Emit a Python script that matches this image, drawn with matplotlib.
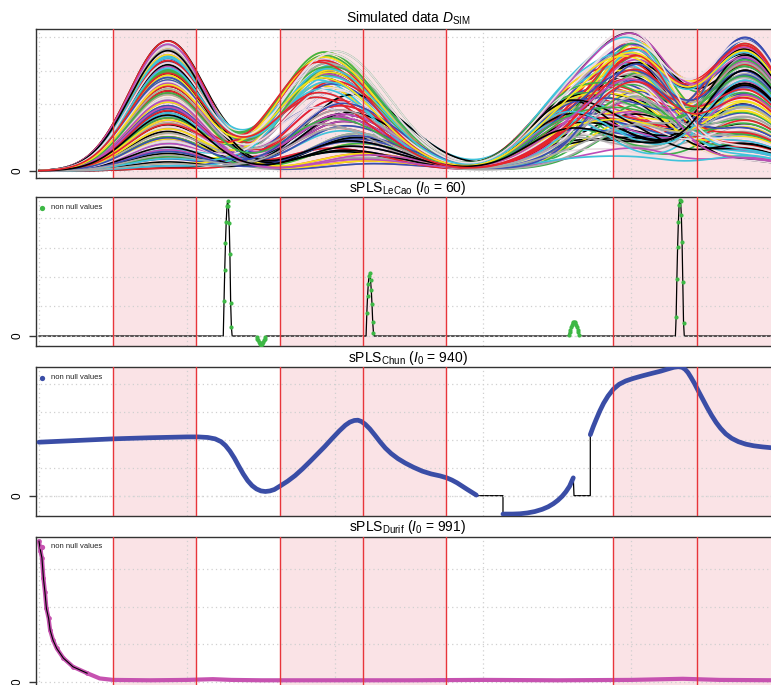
import numpy as np
import matplotlib
matplotlib.use("Agg")
import matplotlib.pyplot as plt

plt.rcParams['font.family'] = ['Liberation Sans', 'DejaVu Sans']
plt.rcParams['mathtext.fontset'] = 'custom'
plt.rcParams['mathtext.rm'] = 'Liberation Sans'
plt.rcParams['mathtext.it'] = 'Liberation Sans:italic'
plt.rcParams['mathtext.bf'] = 'Liberation Sans:bold'

# ---------------- data ----------------
# x axis = variable index
red_lines = [100, 212, 326, 438, 550, 776, 889]
pink_spans = [(100, 212), (326, 550), (776, 1010)]
grid_x = [0, 200, 400, 600, 800, 1000]

# simulated curves: amplitude / centre of each bump, one entry per curve
a1 = [3.88, 0.42, 2.71, 1.65, 3.12, 0.95, 2.28, 3.55,
      1.18, 0.08, 2.94, 1.86, 3.36, 0.63, 2.05, 1.44,
      3.71, 0.27, 2.52, 1.02, 3.24, 1.73, 0.81, 2.86,
      3.63, 1.31, 0.52, 2.39, 3.01, 1.95, 0.15, 2.62,
      3.47, 1.12, 2.17, 0.71, 3.29, 1.58, 2.79, 0.36,
      3.78, 1.25, 2.45, 0.88, 3.17, 1.79, 2.99, 0.58,
      3.41, 2.11, 1.51, 0.22, 2.67, 3.59, 1.38, 2.33,
      0.99, 3.06, 1.91, 2.57, 0.47, 3.22, 1.67, 2.91]
a2 = [2.95, 1.40, 3.58, 0.62, 2.20, 3.12, 1.05, 2.66,
      0.35, 3.40, 1.82, 2.48, 0.90, 3.25, 1.57, 2.02,
      3.05, 0.48, 2.78, 1.28, 3.50, 0.74, 2.34, 1.95,
      2.87, 0.22, 3.18, 1.66, 2.55, 1.12, 3.35, 0.58,
      2.12, 3.45, 0.96, 2.72, 1.48, 3.02, 0.40, 2.40,
      1.75, 3.30, 0.82, 2.60, 1.20, 2.90, 0.30, 3.15,
      1.90, 2.28, 0.68, 3.55, 1.35, 2.82, 1.60, 0.52,
      3.22, 2.05, 1.00, 2.68, 3.10, 0.88, 2.45, 1.70]
c2 = [392, 382, 400, 414, 375, 396, 427, 389,
      436, 385, 405, 394, 419, 378, 398, 411,
      390, 447, 383, 403, 393, 422, 379, 407,
      388, 452, 397, 416, 381, 430, 389, 408,
      401, 386, 425, 376, 412, 394, 440, 404,
      418, 384, 433, 396, 409, 388, 444, 399,
      378, 423, 395, 386, 415, 392, 405, 438,
      390, 411, 429, 398, 387, 420, 382, 408]
b3 = [0.98, 1.91, 0.33, 1.50, 0.78, 1.71, 0.20, 1.26,
      1.99, 0.58, 1.10, 1.63, 0.45, 1.39, 1.83, 0.13,
      0.85, 1.55, 0.65, 1.95, 1.18, 0.29, 1.75, 1.01,
      0.49, 1.59, 1.88, 0.74, 1.30, 0.16, 1.66, 0.94,
      1.43, 0.36, 1.79, 1.14, 0.69, 2.03, 0.25, 1.34,
      1.73, 0.81, 0.41, 1.46, 1.85, 0.61, 1.23, 0.09,
      1.06, 1.94, 0.53, 1.59, 0.90, 0.31, 1.78, 1.29,
      0.71, 1.40, 1.96, 0.23, 0.99, 1.64, 0.48, 1.20]
a3 = [3.10, 1.25, 3.72, 0.55, 2.45, 1.80, 3.35, 0.95,
      2.70, 1.50, 3.55, 0.30, 2.20, 3.00, 1.10, 2.85,
      0.70, 3.45, 1.95, 2.55, 0.42, 3.25, 1.65, 2.35,
      3.62, 1.05, 2.95, 0.62, 3.15, 1.85, 2.10, 0.85,
      3.40, 1.40, 2.60, 0.20, 3.05, 1.70, 2.75, 1.15,
      0.50, 3.30, 2.25, 1.55, 3.50, 0.80, 2.90, 1.30,
      2.40, 0.65, 3.20, 1.90, 2.65, 0.35, 3.60, 1.20,
      2.05, 3.38, 0.90, 2.80, 1.45, 3.12, 0.48, 2.50]
a4 = [3.45, 1.10, 2.80, 3.97, 0.60, 2.25, 1.75, 3.20,
      0.95, 2.60, 3.70, 1.40, 2.95, 0.45, 3.35, 2.05,
      1.60, 3.85, 0.80, 2.40, 3.10, 1.25, 2.70, 0.35,
      3.55, 1.90, 0.70, 3.00, 2.15, 3.78, 1.05, 2.50,
      0.55, 3.25, 1.85, 2.90, 0.30, 3.60, 1.50, 2.30,
      3.90, 0.85, 2.65, 1.30, 3.40, 2.00, 0.65, 3.15,
      1.70, 2.85, 3.50, 0.40, 2.20, 1.15, 3.05, 2.55,
      0.75, 3.30, 1.95, 2.45, 3.65, 1.00, 2.75, 1.35]
# second batch of curves pairs the same read amplitudes differently
batch_shift = [0, 23, 11, 37, 5, 29]
curve_colors = ["black", "#E8232B", "#3DB04A", "#3B4DB2", "#3FC3DB",
                "#BE4DB8", "#F7E21A", "#A9A9A9", "#EBDCE4"]

# sPLS LeCao: non-null coefficients (index, value)
lecao_idx = list(range(250, 261)) + list(range(294, 307)) + list(range(443, 453)) \
    + list(range(716, 731)) + list(range(861, 872))
lecao_val = [1.18, 2.25, 3.16, 3.87, 4.40, 4.58, 4.40, 3.83, 2.77, 1.13, 0.30,
             -0.04, -0.09, -0.14, -0.19, -0.24, -0.28, -0.30, -0.28, -0.24, -0.19, -0.14, -0.09, -0.04,
             0.77, 1.35, 1.77, 2.04, 2.13, 1.90, 1.56, 1.08, 0.46, 0.10,
             0.05, 0.12, 0.20, 0.29, 0.37, 0.43, 0.47, 0.48, 0.47, 0.43, 0.37, 0.29, 0.20, 0.12, 0.05,
             0.65, 1.94, 3.03, 3.85, 4.44, 4.61, 4.58, 4.10, 3.20, 1.84, 0.45]

# sPLS Chun: three non-null stretches
chun_x1 = [0, 50, 100, 150, 200, 215, 228, 238, 246, 252, 258, 264, 270, 276, 282, 288,
           294, 300, 306, 312, 318, 326, 336, 346, 356, 366, 376, 386, 396, 406, 414, 420,
           426, 431, 436, 441, 447, 454, 461, 468, 476, 485, 495, 506, 518, 530, 542, 551,
           558, 565, 572, 579, 585, 591]
chun_y1 = [1.92, 1.98, 2.04, 2.08, 2.11, 2.11, 2.09, 2.04, 1.94, 1.80, 1.60, 1.35, 1.06, 0.78,
           0.54, 0.36, 0.24, 0.17, 0.15, 0.17, 0.22, 0.35, 0.52, 0.72, 0.96, 1.22, 1.49, 1.76,
           2.05, 2.33, 2.53, 2.64, 2.70, 2.71, 2.66, 2.56, 2.40, 2.17, 1.93, 1.71, 1.51, 1.33,
           1.17, 1.02, 0.88, 0.78, 0.71, 0.64, 0.56, 0.46, 0.34, 0.22, 0.12, 0.02]
chun_x2 = [627, 640, 650, 660, 670, 680, 688, 695, 701, 707, 712, 717, 722]
chun_y2 = [-0.66, -0.66, -0.65, -0.62, -0.57, -0.49, -0.40, -0.29, -0.17, -0.02, 0.14, 0.34, 0.64]
chun_x3 = [745, 749, 753, 758, 763, 769, 776, 784, 793, 803, 815, 828, 840, 850, 858, 864,
           869, 873, 877, 881, 886, 891, 897, 903, 909, 915, 921, 928, 936, 945, 955, 966,
           978, 990, 1000]
chun_y3 = [2.19, 2.48, 2.74, 3.05, 3.32, 3.58, 3.82, 4.00, 4.12, 4.21, 4.30, 4.39, 4.47, 4.55,
           4.61, 4.63, 4.61, 4.54, 4.42, 4.25, 4.02, 3.76, 3.46, 3.16, 2.88, 2.63, 2.42, 2.22,
           2.06, 1.94, 1.85, 1.79, 1.75, 1.72, 1.71]
chun_zero_x = [[592, 627], [723, 745]]

# sPLS Durif
durif_x = [0, 2, 4, 6, 8, 10, 13, 15, 19, 24, 33, 46, 65, 82, 100, 150, 200, 235, 260, 300,
           400, 500, 600, 700, 800, 870, 920, 1000]
durif_y = [3.75, 3.50, 3.30, 2.76, 2.40, 1.96, 1.69, 1.38, 1.11, 0.89, 0.63, 0.40, 0.23, 0.09,
           0.05, 0.04, 0.05, 0.07, 0.05, 0.04, 0.04, 0.04, 0.05, 0.04, 0.05, 0.08, 0.05, 0.04]

methods = ["LeCao", "Chun", "Durif"]
n_selected = [60, 940, 991]
method_colors = ["#3DB845", "#3A4DA6", "#C652B0"]

# ---------------- layout ----------------
W, H = 771, 685
fig = plt.figure(figsize=(W / 100, H / 100), dpi=100)
tops = [29, 197.5, 367, 536.5]
ph = 149
ylims = [(-0.209, 4.239), (-0.356, 4.695), (-0.73, 4.62), (-0.099, 3.875)]
ngrid = [5, 5, 5, 4]
axes = []
for top, yl, ng in zip(tops, ylims, ngrid):
    ax = fig.add_axes([36 / W, 1 - (top + ph) / H, (780 - 36) / W, ph / H])
    ax.set_xlim(-4.05, 1001.35)
    ax.set_ylim(*yl)
    for s0, s1 in pink_spans:
        ax.axvspan(s0, s1, color="#FAE3E6", lw=0, zorder=0)
    for gx in grid_x:
        ax.axvline(gx, color="#D0D0D0", ls=(0, (1, 2.5)), lw=0.9, zorder=0.5)
    for gy in range(ng):
        ax.axhline(gy, color="#D0D0D0", ls=(0, (1, 2.5)), lw=0.9, zorder=0.5)
    for rx in red_lines:
        ax.axvline(rx, color="#E8353A", lw=1.0, zorder=4)
    ax.set_xticks([])
    ax.set_yticks([0])
    ax.set_yticklabels(["0"], rotation=90, va="center", fontsize=8.5)
    ax.tick_params(axis="y", length=5, width=1.0, pad=4, color="#333333")
    for side in ["left", "top", "bottom"]:
        ax.spines[side].set_color("#333333")
        ax.spines[side].set_linewidth(1.0)
    ax.spines["right"].set_visible(False)
    axes.append(ax)

u = np.arange(0, 1001)


def bump(x, c, sl, sr):
    s = np.where(x < c, sl, sr)
    return np.exp(-0.5 * ((x - c) / s) ** 2)


# panel 1: simulated data
ax = axes[0]
n = len(a1)
k = 0
for shift in [[0] * 6, batch_shift]:
    for i in range(n):
        j = [(i + s) % n for s in shift]
        y = (a1[j[0]] * bump(u, 174, 52, 52) + a2[j[1]] * bump(u, c2[j[1]], 62, 74)
             + b3[j[3]] * bump(u, 712, 55, 55) + a3[j[4]] * bump(u, 808, 55, 50)
             + a4[j[5]] * bump(u, 955, 55, 55))
        ax.plot(u, y, color=curve_colors[k % len(curve_colors)], lw=1.2, zorder=2)
        k += 1
ax.text(0.5, 1 + 6 / ph, r"Simulated data $D_{\rm SIM}$", transform=ax.transAxes,
        ha="center", va="baseline", fontsize=10)

# panel 2: LeCao
ax = axes[1]
yl = np.zeros(len(u))
yl[lecao_idx] = lecao_val
ax.plot(u, yl, color="black", lw=0.9, zorder=2)
ax.axhline(0, color="#D8D8D8", ls=(0, (1, 2.5)), lw=1.0, zorder=2.2)
ax.plot(lecao_idx, lecao_val, "o", color=method_colors[0], ms=3.0, mew=0, zorder=3)

# panel 3: Chun
ax = axes[2]
bx = chun_x1 + chun_zero_x[0] + chun_x2 + chun_zero_x[1] + chun_x3
by = chun_y1 + [0, 0] + chun_y2 + [0, 0] + chun_y3
ax.plot(bx, by, color="black", lw=0.9, zorder=2)
ax.axhline(0, color="#D8D8D8", ls=(0, (1, 2.5)), lw=1.0, zorder=2.2)
for xs, ys in [(chun_x1, chun_y1), (chun_x2, chun_y2), (chun_x3, chun_y3)]:
    ax.plot(xs, ys, color=method_colors[1], lw=3.4, solid_capstyle="round",
            solid_joinstyle="round", zorder=3)

# panel 4: Durif
ax = axes[3]
ax.plot(durif_x, durif_y, color=method_colors[2], lw=3.0, solid_capstyle="round",
        solid_joinstyle="round", zorder=2.5)
ax.plot(durif_x[:13], durif_y[:13], "o", color=method_colors[2], ms=3.4, mew=0, zorder=2.6)
ax.plot(durif_x[:13], durif_y[:13], color="black", lw=0.8, zorder=3)

for ax, m, n0, col in zip(axes[1:], methods, n_selected, method_colors):
    ax.text(0.5, 1 + 5 / ph, r"sPLS$_{\rm %s}$ ($I_0$ = %d)" % (m, n0),
            transform=ax.transAxes, ha="center", va="baseline", fontsize=10)
    fy = 1 - 10.5 / ph
    ax.plot([6 / 744], [fy], "o", color=col, ms=3.8, mew=0, transform=ax.transAxes,
            zorder=5, clip_on=False)
    ax.text(15 / 744, fy, "non null values", transform=ax.transAxes, ha="left",
            va="center", fontsize=5.5, color="#222222", zorder=5)

fig.savefig("out.png", dpi=100)
